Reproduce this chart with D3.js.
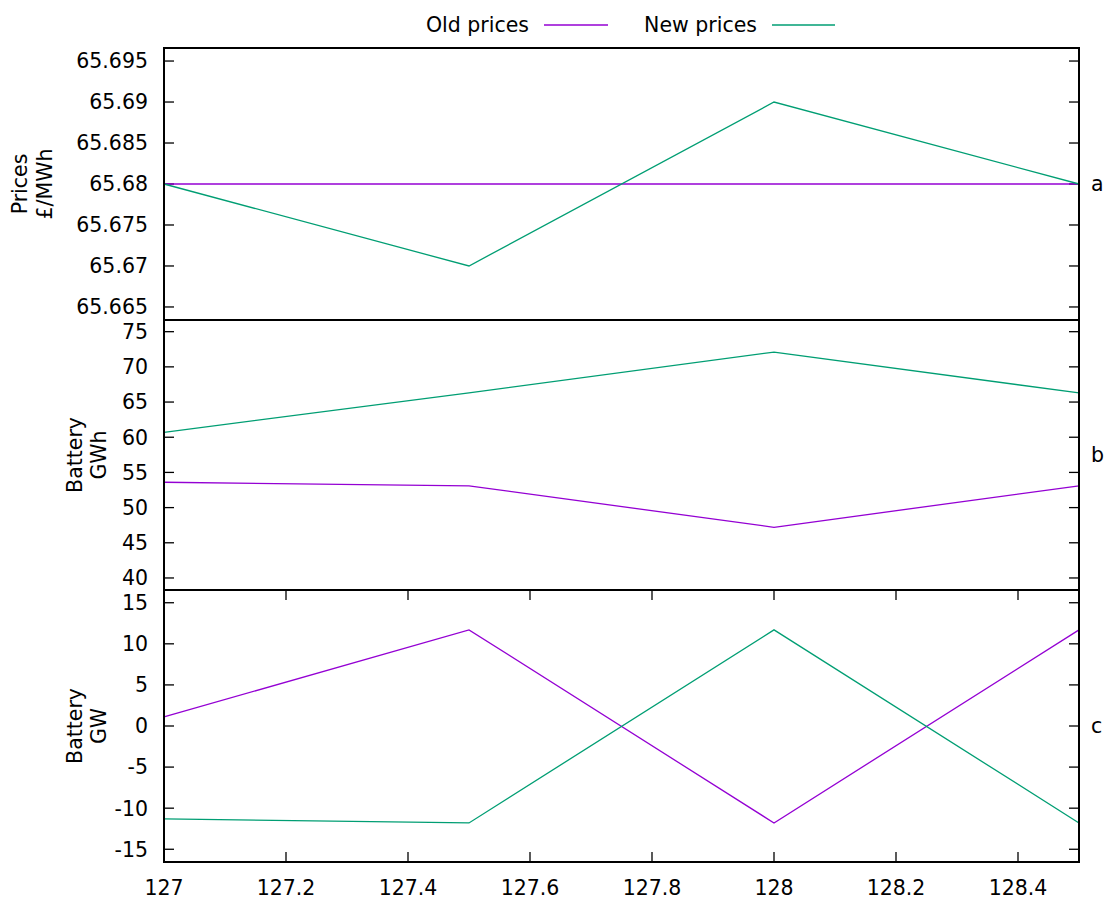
<!DOCTYPE html>
<html>
<head>
<meta charset="utf-8">
<script src="https://cdn.jsdelivr.net/npm/d3@7"></script>
<style>
  html, body { margin: 0; padding: 0; background: #fff; }
  svg text { font-family: "DejaVu Sans", sans-serif; font-size: 20.5px; fill: #000; }
</style>
</head>
<body>
<svg id="chart" width="1107" height="900"></svg>
<script>
// Time steps shared by every panel
const steps = [127, 127.5, 128, 128.5];

// Panel a: prices (£/MWh)
const oldPrices = [65.68, 65.68, 65.68, 65.68];
const newPrices = [65.68, 65.67, 65.69, 65.68];

// Panel b: battery stored energy (GWh)
const oldEnergy = [53.6, 53.1, 47.2, 53.1];
const newEnergy = [60.7, 66.3, 72.1, 66.3];

// Panel c: battery power (GW)
const oldPower = [1.1, 11.7, -11.8, 11.7];
const newPower = [-11.3, -11.8, 11.7, -11.8];

// Tick labels
const xTicks = [127, 127.2, 127.4, 127.6, 127.8, 128, 128.2, 128.4];
const priceTicks = [65.665, 65.67, 65.675, 65.68, 65.685, 65.69, 65.695];
const energyTicks = [40, 45, 50, 55, 60, 65, 70, 75];
const powerTicks = [-15, -10, -5, 0, 5, 10, 15];

const seriesNames = ["Old prices", "New prices"];
const colors = ["#9400d3", "#009e73"];

const svg = d3.select("#chart");
const left = 164, right = 1079;
const x = d3.scaleLinear().domain([127, 128.5]).range([left, right]);

const panels = [
  { top: 48, bottom: 320, domain: [65.66341, 65.69659], ticks: priceTicks,
    fmt: d => String(+d.toFixed(3)), label: ["Prices", "£/MWh"], labelX: [20, 45],
    tag: "a", series: [oldPrices, newPrices], xticks: false },
  { top: 320, bottom: 590, domain: [38.29, 76.66], ticks: energyTicks,
    fmt: d => String(d), label: ["Battery", "GWh"], labelX: [75, 99],
    tag: "b", series: [oldEnergy, newEnergy], xticks: false },
  { top: 590, bottom: 862, domain: [-16.55, 16.55], ticks: powerTicks,
    fmt: d => String(d), label: ["Battery", "GW"], labelX: [75, 99],
    tag: "c", series: [oldPower, newPower], xticks: true }
];

const tickLen = 10;

panels.forEach(p => {
  const y = d3.scaleLinear().domain(p.domain).range([p.bottom, p.top]);
  const g = svg.append("g");

  // y ticks on both sides, pointing inward
  p.ticks.forEach(t => {
    const yy = y(t);
    g.append("line").attr("x1", left).attr("x2", left + tickLen)
      .attr("y1", yy).attr("y2", yy).attr("stroke", "#000").attr("stroke-width", 1.3);
    g.append("line").attr("x1", right - tickLen).attr("x2", right)
      .attr("y1", yy).attr("y2", yy).attr("stroke", "#000").attr("stroke-width", 1.3);
    g.append("text").attr("x", 148).attr("y", yy).attr("dy", "0.36em")
      .attr("text-anchor", "end").text(p.fmt(t));
  });

  // x ticks on top and bottom of the lowest panel
  if (p.xticks) {
    xTicks.forEach(t => {
      const xx = x(t);
      g.append("line").attr("x1", xx).attr("x2", xx)
        .attr("y1", p.bottom).attr("y2", p.bottom - tickLen)
        .attr("stroke", "#000").attr("stroke-width", 1.3);
      g.append("line").attr("x1", xx).attr("x2", xx)
        .attr("y1", p.top).attr("y2", p.top + tickLen)
        .attr("stroke", "#000").attr("stroke-width", 1.3);
      g.append("text").attr("x", xx).attr("y", 895)
        .attr("text-anchor", "middle").text(String(+t.toFixed(1)));
    });
  }

  // data lines
  const line = d3.line().x((d, i) => x(steps[i])).y(d => y(d));
  p.series.forEach((s, i) => {
    g.append("path").datum(s).attr("d", line)
      .attr("fill", "none").attr("stroke", colors[i]).attr("stroke-width", 1.3);
  });

  // frame
  g.append("rect").attr("x", left).attr("y", p.top)
    .attr("width", right - left).attr("height", p.bottom - p.top)
    .attr("fill", "none").attr("stroke", "#000").attr("stroke-width", 2);

  // y axis label (two rotated lines)
  const cy = (p.top + p.bottom) / 2;
  p.label.forEach((txt, i) => {
    g.append("text")
      .attr("transform", `translate(${p.labelX[i] + 7},${cy}) rotate(-90)`)
      .attr("text-anchor", "middle").text(txt);
  });

  // panel tag on the right
  g.append("text").attr("x", 1091).attr("y", cy).attr("dy", "0.36em").text(p.tag);
});

// legend
const legend = [
  { name: seriesNames[0], textEnd: 529, x1: 544, x2: 608 },
  { name: seriesNames[1], textEnd: 757, x1: 772, x2: 835 }
];
legend.forEach((l, i) => {
  svg.append("text").attr("x", l.textEnd).attr("y", 25).attr("dy", "0.36em")
    .attr("text-anchor", "end").text(l.name);
  svg.append("line").attr("x1", l.x1).attr("x2", l.x2).attr("y1", 25).attr("y2", 25)
    .attr("stroke", colors[i]).attr("stroke-width", 1.3);
});
</script>
</body>
</html>
